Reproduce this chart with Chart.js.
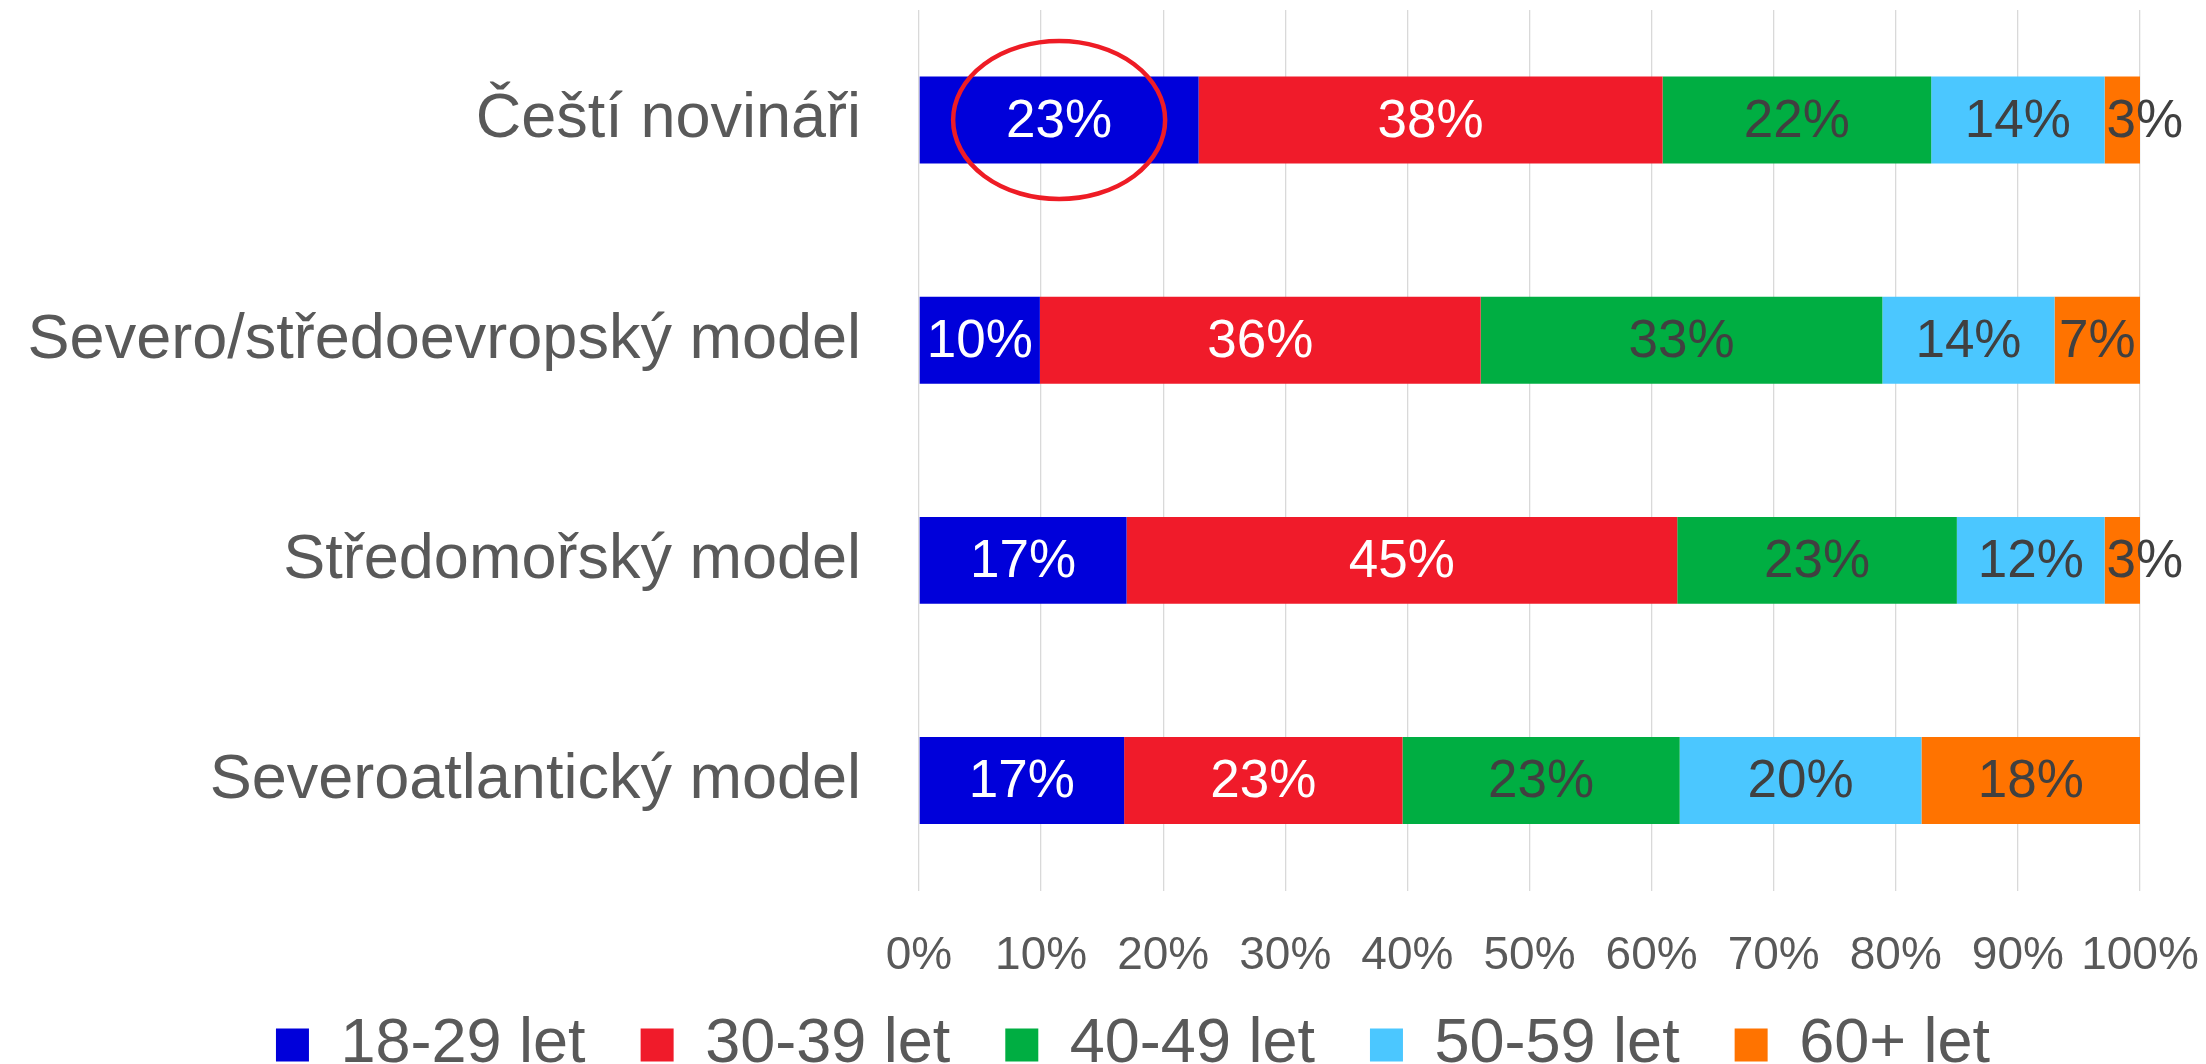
<!DOCTYPE html>
<html>
<head>
<meta charset="utf-8">
<script src="https://cdn.jsdelivr.net/npm/chart.js@4/dist/chart.umd.min.js"></script>
<style>
  html, body { margin: 0; padding: 0; background: #ffffff; }
  canvas { display: block; }
</style>
</head>
<body>
<canvas id="c" width="2206" height="1064"></canvas>
<script>
const categories = ['Čeští novináři', 'Severo/středoevropský model', 'Středomořský model', 'Severoatlantický model'];
const seriesNames = ['18-29 let', '30-39 let', '40-49 let', '50-59 let', '60+ let'];
const age18_29 = [22.9, 9.9, 17.0, 16.8];
const age30_39 = [38.0, 36.1, 45.1, 22.8];
const age40_49 = [22.0, 32.9, 22.9, 22.7];
const age50_59 = [14.2, 14.1, 12.1, 19.8];
const age60plus = [2.9, 7.0, 2.9, 17.9];
const xTicks = [0, 10, 20, 30, 40, 50, 60, 70, 80, 90, 100];

const seriesValues = [age18_29, age30_39, age40_49, age50_59, age60plus];
const colors = ['#0000DA', '#F01B2A', '#00AE42', '#4BC7FF', '#FF7300'];
const labelColors = ['#FFFFFF', '#FFFFFF', '#404040', '#404040', '#404040'];
const FONT = "'Liberation Sans', Arial, sans-serif";

const dataLabelPlugin = {
  id: 'dataLabels',
  afterDatasetsDraw(chart) {
    const ctx = chart.ctx;
    ctx.save();
    ctx.font = '53px ' + FONT;
    ctx.textAlign = 'center';
    ctx.textBaseline = 'middle';
    chart.data.datasets.forEach((ds, di) => {
      const meta = chart.getDatasetMeta(di);
      meta.data.forEach((el, i) => {
        const p = el.getProps(['x', 'y', 'base'], true);
        const txt = Math.round(ds.data[i]) + '%';
        const tw = ctx.measureText(txt).width;
        const left = Math.min(p.x, p.base), right = Math.max(p.x, p.base);
        let cx = (left + right) / 2;
        if (tw > right - left) cx = left + tw / 2 + 2;
        ctx.fillStyle = labelColors[di];
        ctx.fillText(txt, cx, p.y + 2);
      });
    });
    // highlight ellipse around first bar's first segment
    const el0 = chart.getDatasetMeta(0).data[0];
    const q = el0.getProps(['x', 'y', 'base'], true);
    ctx.beginPath();
    ctx.ellipse((q.x + q.base) / 2, q.y, 106, 79, 0, 0, Math.PI * 2);
    ctx.strokeStyle = '#EE1C25';
    ctx.lineWidth = 4.5;
    ctx.stroke();
    ctx.restore();
  }
};

const legendShiftPlugin = {
  id: 'legendShift',
  afterLayout(chart) {
    const lg = chart.legend;
    if (!lg) return;
    lg.top -= 64; lg.bottom -= 64;
    lg.left += 63; lg.right += 63;
  }
};

new Chart(document.getElementById('c'), {
  type: 'bar',
  data: {
    labels: categories,
    datasets: seriesNames.map((name, k) => ({
      label: name,
      data: seriesValues[k],
      backgroundColor: colors[k],
      borderWidth: 0,
      categoryPercentage: 1,
      barPercentage: 0.395
    }))
  },
  options: {
    indexAxis: 'y',
    responsive: false,
    animation: false,
    devicePixelRatio: 1,
    layout: { padding: { left: 0, right: 66, top: 10, bottom: -86.6 } },
    plugins: {
      tooltip: { enabled: false },
      legend: {
        position: 'bottom',
        labels: {
          boxWidth: 33,
          boxHeight: 33,
          padding: 55,
          color: '#595959',
          font: { family: FONT, size: 63 }
        }
      }
    },
    scales: {
      x: {
        stacked: true,
        min: 0,
        max: 100,
        afterBuildTicks: (s) => { s.ticks = xTicks.map(v => ({ value: v })); },
        ticks: {
          callback: (v) => v + '%',
          color: '#595959',
          font: { family: FONT, size: 46, lineHeight: 1.2 },
          padding: 38.4,
          maxRotation: 0,
          autoSkip: false
        },
        grid: { color: '#D9D9D9', lineWidth: 1.3, drawTicks: false },
        border: { display: false },
        afterFit: (s) => { s.paddingLeft = 0; s.paddingRight = 0; }
      },
      y: {
        stacked: true,
        ticks: {
          color: '#595959',
          font: { family: FONT, size: 63 },
          padding: 58
        },
        grid: { display: false, drawTicks: false },
        border: { display: false },
        afterFit: (s) => { s.width = 919; s.paddingTop = 0; s.paddingBottom = 0; }
      }
    }
  },
  plugins: [dataLabelPlugin, legendShiftPlugin]
});
</script>
</body>
</html>
